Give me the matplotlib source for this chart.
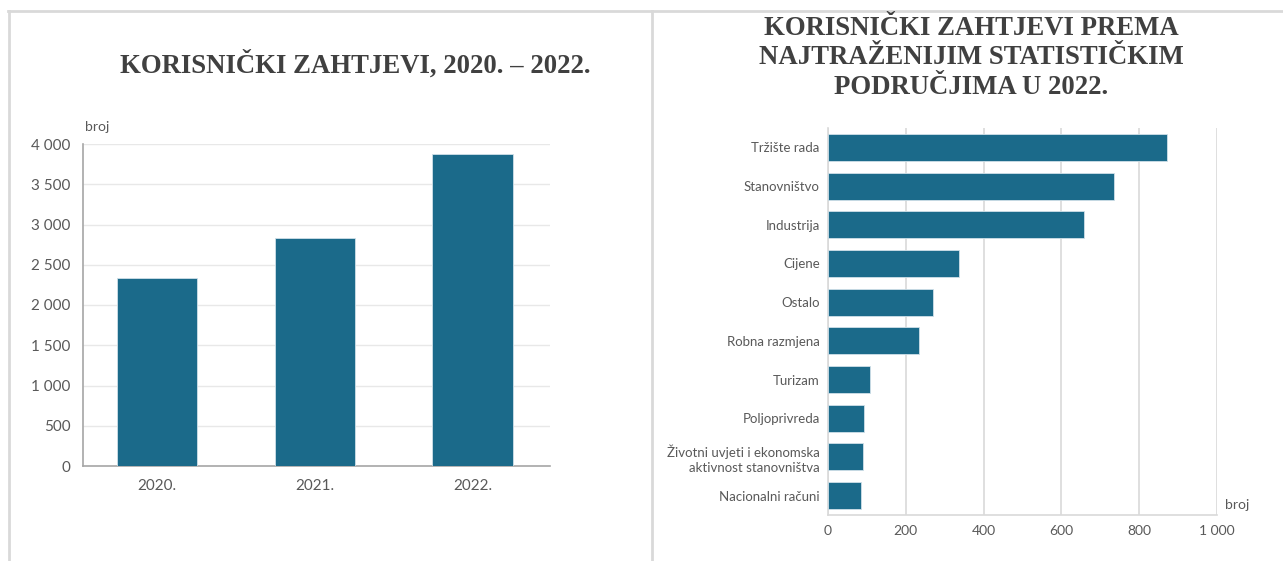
import matplotlib.pyplot as plt
from matplotlib.ticker import FuncFormatter, MultipleLocator
from matplotlib.lines import Line2D

# podaci
godine = ['2020.', '2021.', '2022.']
zahtjevi = [2330, 2830, 3875]

podrucja = ['Tržište rada', 'Stanovništvo', 'Industrija', 'Cijene', 'Ostalo',
            'Robna razmjena', 'Turizam', 'Poljoprivreda',
            'Životni uvjeti i ekonomska\naktivnost stanovništva', 'Nacionalni računi']
zahtjevi_2022 = [872, 736, 658, 336, 270, 234, 107, 93, 91, 86]

boja = '#1b6a8a'
siva = '#595959'
plt.rcParams['font.family'] = ['Lato', 'DejaVu Sans']

def razmak(x, pos):
    return f'{int(x):,}'.replace(',', ' ')

fig = plt.figure(figsize=(12.83, 5.61), dpi=100)

# okviri
fig.add_artist(Line2D([8/1283, 1282/1283], [1 - 10.5/561] * 2, color='#d9d9d9', lw=2))
fig.add_artist(Line2D([8.5/1283] * 2, [0, 1 - 10.5/561], color='#d9d9d9', lw=2))
fig.add_artist(Line2D([652/1283] * 2, [0, 1 - 10.5/561], color='#d9d9d9', lw=2))

# lijevi graf
ax1 = fig.add_axes([83/1283, 1 - 466/561, 467/1283, 322/561])
ax1.bar(range(len(godine)), zahtjevi, width=0.51, color=boja, edgecolor='#d0e0e8', linewidth=0.6, zorder=3)
ax1.set_xlim(-0.47, 2.49)
ax1.set_ylim(0, 4000)
ax1.yaxis.set_major_locator(MultipleLocator(500))
ax1.yaxis.set_major_formatter(FuncFormatter(razmak))
ax1.set_xticks(range(len(godine)))
ax1.set_xticklabels(godine)
ax1.grid(axis='y', color='#e8e8e8', lw=1, zorder=0)
for s in ['top', 'right']:
    ax1.spines[s].set_visible(False)
ax1.spines['left'].set_color('#a6a6a6')
ax1.spines['bottom'].set_color('#a6a6a6')
ax1.spines['left'].set_linewidth(1.2)
ax1.spines['bottom'].set_linewidth(1.2)
ax1.tick_params(length=0, labelsize=11, colors=siva, pad=9)
ax1.tick_params(axis='x', pad=9)
ax1.text(0.005, 1.035, 'broj', transform=ax1.transAxes, fontsize=10, color=siva, ha='left', va='bottom')
fig.text(355/1283, 1 - 65/561, 'KORISNIČKI ZAHTJEVI, 2020. – 2022.', family='Liberation Serif',
         fontsize=19.3, fontweight='bold', color='#404040', ha='center', va='center')

# desni graf
ax2 = fig.add_axes([828/1283, 1 - 515/561, 389/1283, 387/561])
ax2.barh(range(len(podrucja)), zahtjevi_2022, height=0.7, color=boja, edgecolor='#d0e0e8', linewidth=0.6, zorder=3)
ax2.set_ylim(len(podrucja) - 0.5, -0.5)
ax2.set_xlim(0, 1000)
ax2.xaxis.set_major_locator(MultipleLocator(200))
ax2.xaxis.set_major_formatter(FuncFormatter(razmak))
ax2.set_yticks(range(len(podrucja)))
ax2.set_yticklabels(podrucja, linespacing=1.3)
ax2.grid(axis='x', color='#d9d9d9', lw=1.2, zorder=0)
for s in ['top', 'right']:
    ax2.spines[s].set_visible(False)
ax2.spines['left'].set_color('#d9d9d9')
ax2.spines['bottom'].set_color('#d9d9d9')
ax2.spines['left'].set_linewidth(1.2)
ax2.spines['bottom'].set_linewidth(1.2)
ax2.tick_params(length=0, labelsize=9.5, colors=siva, pad=6)
ax2.tick_params(axis='x', labelsize=10, pad=7)
ax2.text(1.02, 0.01, 'broj', transform=ax2.transAxes, fontsize=10, color=siva, ha='left', va='bottom')
fig.text(971/1283, 1 - 58/561, 'KORISNIČKI ZAHTJEVI PREMA\nNAJTRAŽENIJIM STATISTIČKIM\nPODRUČJIMA U 2022.',
         family='Liberation Serif', fontsize=19.3, fontweight='bold', color='#404040',
         ha='center', va='center', linespacing=1.26)

fig.savefig('out.png', dpi=100)
